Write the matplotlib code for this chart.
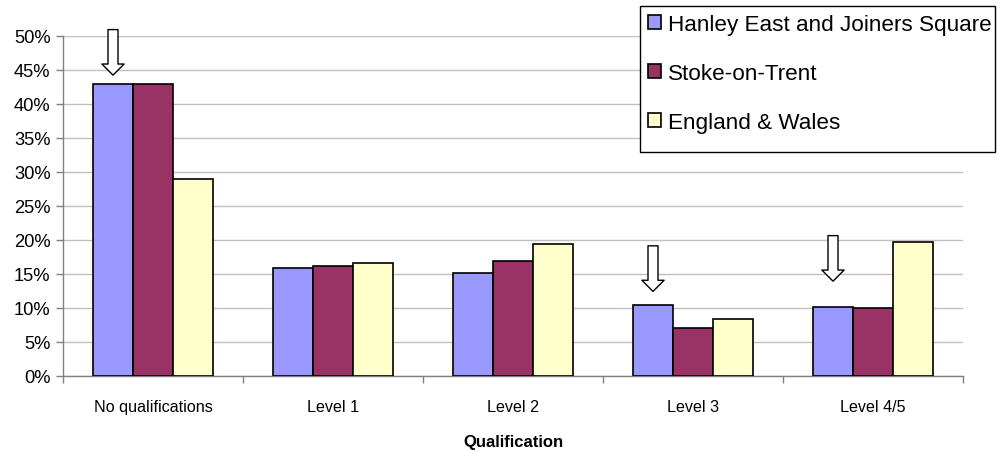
import matplotlib
matplotlib.use("Agg")
import matplotlib.pyplot as plt
import numpy as np
from matplotlib.ticker import FixedLocator, PercentFormatter
from matplotlib.patches import Rectangle

plt.rcParams["font.family"] = ["Liberation Sans", "DejaVu Sans"]

categories = ["No qualifications", "Level 1", "Level 2", "Level 3", "Level 4/5"]
series_names = ["Hanley East and Joiners Square", "Stoke-on-Trent", "England & Wales"]
hanley = [42.9, 15.8, 15.1, 10.4, 10.1]
stoke = [42.9, 16.1, 16.8, 7.0, 9.9]
england = [28.9, 16.6, 19.4, 8.3, 19.6]
colors = ["#9999FF", "#993366", "#FFFFCC"]
y_ticks = [0, 5, 10, 15, 20, 25, 30, 35, 40, 45, 50]
x_label = "Qualification"

# highlight arrows (category index, arrow top %, arrow tip %)
arrow_cats = [0, 3, 4]
arrow_tops = [50.9, 19.1, 20.6]
arrow_tips = [44.2, 12.4, 13.9]

W, H = 998, 452
fig = plt.figure(figsize=(W / 100, H / 100), dpi=100)
ax = fig.add_axes([63 / W, 1 - 376.7 / H, 900 / W, 340 / H])

x = np.arange(len(categories))
bw = 2 / 9
for k, (vals, name, col) in enumerate(zip([hanley, stoke, england], series_names, colors)):
    ax.bar(x + (k - 1) * bw, vals, bw, color=col, edgecolor="black", linewidth=1.2,
           label=name, zorder=3)

ax.set_xlim(-0.5, len(categories) - 0.5)
ax.set_ylim(0, 50)
ax.yaxis.set_major_locator(FixedLocator(y_ticks))
ax.yaxis.set_major_formatter(PercentFormatter(decimals=0))
ax.grid(axis="y", color="#c0c0c0", linewidth=1.0, zorder=0)
ax.set_axisbelow(True)

ax.set_xticks(x)
ax.set_xticklabels(categories, fontsize=11.6)
ax.set_xticks(np.arange(-0.5, len(categories)), minor=True)
ax.tick_params(axis="x", which="major", length=0, pad=17)
ax.tick_params(axis="x", which="minor", length=5, color="#808080", width=1)
ax.tick_params(axis="y", length=5, color="#808080", width=1, labelsize=13.2, pad=4)

for s in ["top", "right"]:
    ax.spines[s].set_visible(False)
for s in ["left", "bottom"]:
    ax.spines[s].set_color("#808080")
    ax.spines[s].set_linewidth(1)

ax.set_xlabel(x_label, fontsize=12, fontweight="bold", labelpad=14)

for c, top, tip in zip(arrow_cats, arrow_tops, arrow_tips):
    xa = x[c] - bw
    ax.annotate("", xy=(xa, tip), xytext=(xa, top), annotation_clip=False,
                arrowprops=dict(arrowstyle="simple,head_length=0.8,head_width=1.6,tail_width=0.72",
                                mutation_scale=10, fc="white", ec="black", lw=1.0,
                                shrinkA=0, shrinkB=0), zorder=5)

# legend box frame in figure pixels, drawn within the axes so the legend sits on top
box = Rectangle((640 / W, 1 - 153 / H), 355 / W, 146.3 / H, transform=fig.transFigure,
                facecolor="white", edgecolor="black", linewidth=1.0, zorder=9, clip_on=False)
ax.add_artist(box)
leg = ax.legend(loc="upper left", bbox_to_anchor=(640 / W, 1 - 6.7 / H),
                bbox_transform=fig.transFigure, borderaxespad=0, fontsize=16.2,
                frameon=False, handlelength=0.6, handleheight=0.6,
                handletextpad=0.3, labelspacing=1.25, borderpad=0.35)
leg.set_zorder(10)

fig.savefig("out.png", dpi=100)
